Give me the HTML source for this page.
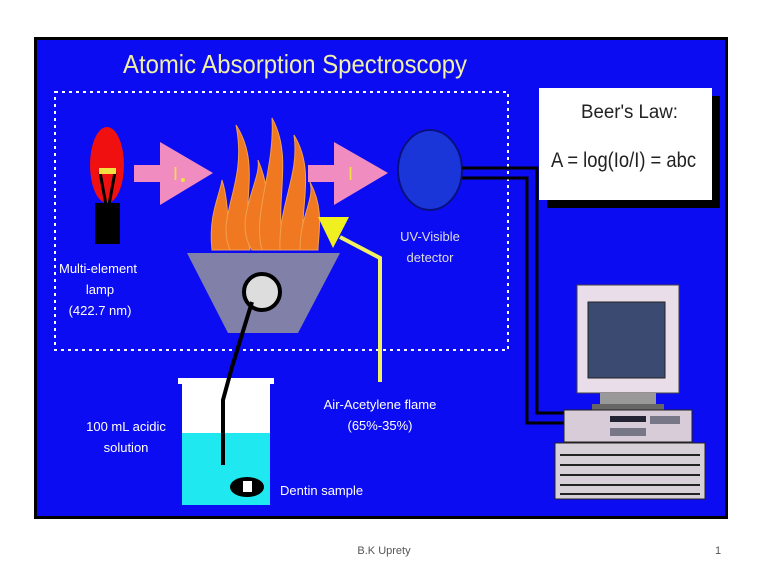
<!DOCTYPE html><html><head><style>body{margin:0;background:#fff}svg{display:block}text{font-family:"Liberation Sans",sans-serif}</style></head><body>
<svg width="768" height="576" viewBox="0 0 768 576">
<rect x="34" y="37" width="694" height="482" fill="#000"/>
<rect x="37" y="40" width="688" height="476" fill="#0c0cf2"/>
<text x="123" y="73" font-size="26" fill="#f0f0a8" textLength="344" lengthAdjust="spacingAndGlyphs">Atomic Absorption Spectroscopy</text>
<rect x="55" y="92" width="453" height="258" fill="none" stroke="#fff" stroke-width="2" stroke-dasharray="3,4"/>
<!-- lamp -->
<ellipse cx="107" cy="165" rx="17" ry="38" fill="#f01010"/>
<rect x="95" y="203" width="25" height="41" fill="#000"/>
<path d="M100 172 L106 205 M115 172 L109 205" stroke="#000" stroke-width="3"/>
<rect x="99" y="168" width="17" height="6" fill="#f0e040"/>
<!-- arrows -->
<path d="M134 165 H160 V142 L213 173 L160 205 V182 H134 Z" fill="#f08cc0"/>
<text x="173" y="180" font-size="18" fill="#f0e040">I</text><circle cx="183" cy="180" r="2" fill="#f0e040"/>
<path d="M308 165 H334 V142 L388 173 L334 205 V182 H308 Z" fill="#f08cc0"/>
<text x="348" y="180" font-size="18" fill="#f0e040">I</text>
<!-- flames -->
<g fill="#f07820" stroke="#f0a050" stroke-width="1">
<path d="M212 250 C208 215 220 195 222 180 C230 205 226 230 232 250 Z"/>
<path d="M230 250 C215 215 248 185 236 125 C262 165 240 205 250 250 Z"/>
<path d="M252 250 C232 220 262 180 258 160 C275 200 262 220 270 250 Z"/>
<path d="M262 250 C252 215 275 170 272 118 C295 160 272 205 285 250 Z"/>
<path d="M280 250 C278 205 300 175 294 135 C318 175 296 215 305 250 Z"/>
<path d="M300 250 C300 215 315 200 310 182 C325 210 318 235 318 250 Z"/>
</g>
<!-- burner -->
<path d="M187 253 H340 L298 333 H228 Z" fill="#8080a8"/>
<circle cx="262" cy="292" r="18" fill="#ddd" stroke="#000" stroke-width="4"/>
<!-- yellow arrow -->
<path d="M380 382 V258 L340 237" fill="none" stroke="#f0f060" stroke-width="4"/>
<path d="M318 217 H349 L333 248 Z" fill="#f0f020"/>
<!-- detector -->
<ellipse cx="430" cy="170" rx="32" ry="40" fill="#1a36d8" stroke="#081080" stroke-width="2"/>
<text x="430" y="241" font-size="13" fill="#ddd" text-anchor="middle">UV-Visible</text>
<text x="430" y="262" font-size="13" fill="#ddd" text-anchor="middle">detector</text>
<g font-size="13" fill="#fff" text-anchor="middle">
<text x="98" y="273">Multi-element</text><text x="100" y="294">lamp</text><text x="100" y="315">(422.7 nm)</text>
<text x="126" y="431">100 mL acidic</text><text x="126" y="452">solution</text>
<text x="380" y="409">Air-Acetylene flame</text><text x="380" y="430">(65%-35%)</text>
</g>
<text x="280" y="495" font-size="13" fill="#fff">Dentin sample</text>
<!-- cables -->
<g fill="none" stroke="#000" stroke-width="3">
<path d="M462 168 H537 V413 H565"/>
<path d="M462 178 H527 V423 H565"/>
</g>
<!-- Beer box -->
<rect x="547" y="96" width="173" height="112" fill="#000"/>
<rect x="539" y="88" width="173" height="112" fill="#fff"/>
<text x="581" y="118" font-size="19" fill="#222" textLength="97" lengthAdjust="spacingAndGlyphs">Beer's Law:</text>
<text x="551" y="167" font-size="21" fill="#222" textLength="145" lengthAdjust="spacingAndGlyphs">A = log(Io/I) = abc</text>
<!-- computer -->
<rect x="577" y="285" width="102" height="108" fill="#e8dde8" stroke="#444"/>
<rect x="588" y="302" width="77" height="76" fill="#3a4a70" stroke="#222"/>
<rect x="600" y="393" width="56" height="12" fill="#999"/>
<rect x="592" y="404" width="72" height="6" fill="#666"/>
<rect x="564" y="410" width="128" height="32" fill="#d8ccd8" stroke="#222"/>
<rect x="610" y="416" width="36" height="6" fill="#223"/><rect x="610" y="428" width="36" height="8" fill="#778"/><rect x="650" y="416" width="30" height="8" fill="#778"/>
<rect x="555" y="443" width="150" height="56" fill="#d8d0d8" stroke="#222"/>
<g stroke="#222" stroke-width="2"><path d="M560 455 H700 M560 465 H700 M560 475 H700 M560 485 H700 M560 494 H700"/></g>
<!-- beaker -->
<rect x="178" y="378" width="96" height="6" fill="#fff"/>
<rect x="182" y="380" width="88" height="53" fill="#fff"/>
<rect x="182" y="433" width="88" height="72" fill="#20e8f0"/>
<path d="M252 302 L232 367 L223 400 V465" fill="none" stroke="#000" stroke-width="4"/>
<ellipse cx="247" cy="487" rx="17" ry="10" fill="#000"/>
<rect x="243" y="481" width="9" height="11" fill="#fff"/>
<text x="384" y="554" font-size="11" fill="#555" text-anchor="middle">B.K Uprety</text>
<text x="718" y="554" font-size="11" fill="#555" text-anchor="middle">1</text>
</svg></body></html>
